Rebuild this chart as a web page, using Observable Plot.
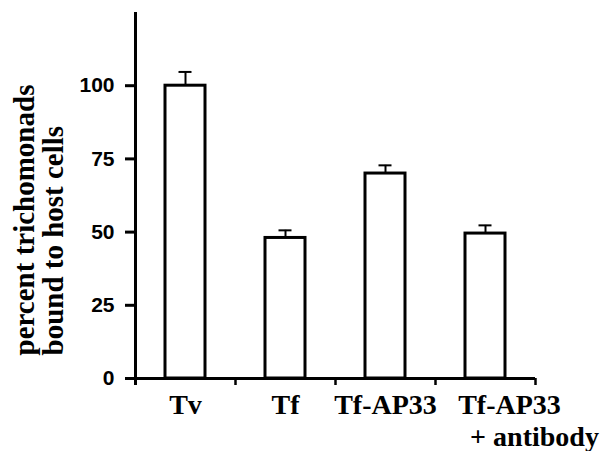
<!DOCTYPE html>
<html>
<head>
<meta charset="utf-8">
<script src="https://cdn.jsdelivr.net/npm/d3@7"></script>
<script src="https://cdn.jsdelivr.net/npm/@observablehq/plot@0.6"></script>
<style>
  html, body { margin: 0; padding: 0; background: #ffffff; }
</style>
</head>
<body>
<div id="chart"></div>
<script>
const categories = ["Tv", "Tf", "Tf-AP33", "Tf-AP33 + antibody"];
const means = [100, 48, 70, 49.5];
const errors = [4.7, 2.6, 2.8, 2.8];
const yTicks = [0, 25, 50, 75, 100];
const labelLine1 = ["Tv", "Tf", "Tf-AP33", "Tf-AP33"];
const labelLine2 = ["", "", "", "+ antibody"];
const yLabel = "percent trichomonads\nbound to host cells";

const data = categories.map((c, i) => ({cat: c, mean: means[i], err: errors[i], l1: labelLine1[i], l2: labelLine2[i]}));
const boundaries = categories.map((c, i) => ({cat: c}));

const serif = "'Liberation Serif', 'Times New Roman', serif";
const sans = "'Liberation Sans', Arial, sans-serif";

const chart = Plot.plot({
  width: 603,
  height: 451,
  marginLeft: 134,
  marginRight: 68,
  marginTop: 12,
  marginBottom: 73,
  style: {background: "#ffffff", color: "#000"},
  x: {domain: categories, paddingInner: 0.6, paddingOuter: 0.3, axis: null},
  y: {domain: [0, 125], axis: null},
  marks: [
    Plot.axisY({ticks: yTicks, tickSize: 9, tickPadding: 11, strokeWidth: 3, fontSize: 21, fontWeight: "bold", fontFamily: sans, label: null}),
    Plot.ruleX([categories[0]], {x: d => d, dx: -50, y1: -2.4, y2: 125, strokeWidth: 3}),
    Plot.ruleY([0], {strokeWidth: 3}),
    Plot.ruleX(boundaries.slice(1), {x: "cat", dx: -50, y1: 0, y2: -2.4, strokeWidth: 2.5}),
    Plot.ruleX([categories[3]], {x: d => d, dx: 50, y1: 0, y2: -2.4, strokeWidth: 2.5}),
    Plot.ruleX(data, {x: "cat", y1: "mean", y2: d => d.mean + d.err, strokeWidth: 2}),
    Plot.tickY(data, {x: "cat", y: d => d.mean + d.err, strokeWidth: 2, insetLeft: 13.5, insetRight: 13.5}),
    Plot.barY(data, {x: "cat", y: "mean", fill: "#ffffff", stroke: "#000", strokeWidth: 3}),
    Plot.text(data.slice(0, 3), {x: "cat", text: "l1", frameAnchor: "bottom", lineAnchor: "bottom", dy: 35, fontSize: 28, fontWeight: "bold", fontFamily: serif, fill: "#000"}),
    Plot.text(data.slice(3), {x: "cat", text: "l1", frameAnchor: "bottom", lineAnchor: "bottom", dy: 35, dx: 24, fontSize: 28, fontWeight: "bold", fontFamily: serif, fill: "#000"}),
    Plot.text(data.slice(3), {x: "cat", text: "l2", frameAnchor: "bottom", lineAnchor: "bottom", dy: 67, dx: 49, fontSize: 28, fontWeight: "bold", fontFamily: serif, fill: "#000"}),
    Plot.text([yLabel], {frameAnchor: "bottom-left", rotate: -90, textAnchor: "start", lineAnchor: "bottom", lineHeight: 1.0, dx: -72, dy: -23, fontSize: 29, fontWeight: "bold", fontFamily: serif, fill: "#000"})
  ]
});
document.getElementById("chart").appendChild(chart);
</script>
</body>
</html>
